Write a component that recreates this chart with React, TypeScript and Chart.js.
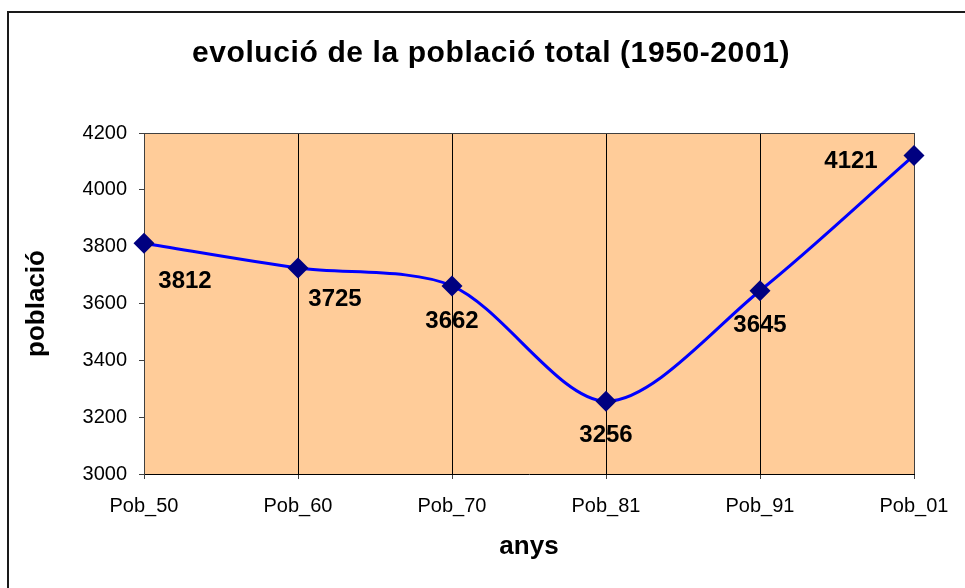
import React, { useEffect, useRef } from "react";
import { Chart, registerables } from "chart.js";

Chart.register(...registerables);

const categories = ["Pob_50", "Pob_60", "Pob_70", "Pob_81", "Pob_91", "Pob_01"];
const poblacio = [3812, 3725, 3662, 3256, 3645, 4121];
const yMin = 3000;
const yMax = 4200;
const yStep = 200;
const titleText = "evolució de la població total (1950-2001)";
const yTitle = "població";
const xTitle = "anys";

const FONT = "'Liberation Sans', Arial, Helvetica, sans-serif";

// label placement relative to each point (style, not data)
const labelOffsets: [number, number][] = [
  [41, 38],
  [37, 31],
  [0, 35],
  [0, 34],
  [0, 35],
  [-63, 6],
];

const decorPlugin = {
  id: "decor",
  beforeDraw(chart: any) {
    const { ctx, chartArea } = chart;
    ctx.save();
    ctx.fillStyle = "#FFFFFF";
    ctx.fillRect(0, 0, chart.width, chart.height);
    ctx.fillStyle = "#FFCC99";
    ctx.fillRect(chartArea.left, chartArea.top, chartArea.right - chartArea.left, chartArea.bottom - chartArea.top);
    // outer chart border (left & top visible)
    ctx.fillStyle = "#1a1a1a";
    ctx.fillRect(7, 11, 2, chart.height);
    ctx.fillRect(7, 11, chart.width, 2);
    ctx.restore();
  },
  beforeDatasetsDraw(chart: any) {
    const { ctx, chartArea } = chart;
    ctx.save();
    ctx.strokeStyle = "#404040";
    ctx.lineWidth = 1;
    ctx.beginPath();
    ctx.moveTo(chartArea.left, Math.round(chartArea.top) + 0.5);
    ctx.lineTo(chartArea.right, Math.round(chartArea.top) + 0.5);
    ctx.moveTo(Math.round(chartArea.right) + 0.5, chartArea.top);
    ctx.lineTo(Math.round(chartArea.right) + 0.5, chartArea.bottom);
    ctx.stroke();
    ctx.restore();
  },
  afterDatasetsDraw(chart: any) {
    const { ctx } = chart;
    const meta = chart.getDatasetMeta(0);
    ctx.save();
    ctx.font = `bold 24px ${FONT}`;
    ctx.fillStyle = "#000000";
    ctx.textAlign = "center";
    ctx.textBaseline = "middle";
    meta.data.forEach((pt: any, i: number) => {
      const [dx, dy] = labelOffsets[i] || [0, 30];
      ctx.fillText(String(poblacio[i]), pt.x + dx, pt.y + dy);
    });
    ctx.restore();
  },
  afterDraw(chart: any) {
    const { ctx } = chart;
    ctx.save();
    ctx.font = `bold 30px ${FONT}`;
    try {
      (ctx as any).letterSpacing = "0.6px";
    } catch (e) {}
    ctx.fillStyle = "#000000";
    ctx.textAlign = "center";
    ctx.textBaseline = "middle";
    ctx.fillText(titleText, 491, 54);
    ctx.restore();
  },
};

export default function App() {
  const canvasRef = useRef<HTMLCanvasElement | null>(null);

  useEffect(() => {
    if (!canvasRef.current) return;
    const chart = new Chart(canvasRef.current, {
      type: "line",
      data: {
        labels: categories,
        datasets: [
          {
            label: yTitle,
            data: poblacio,
            borderColor: "#0000FF",
            borderWidth: 3,
            tension: 0.3,
            pointStyle: "rectRot",
            pointRadius: 10.5,
            pointBackgroundColor: "#000080",
            pointBorderColor: "#000080",
            pointBorderWidth: 0,
            fill: false,
            clip: false,
          } as any,
        ],
      },
      options: {
        animation: false,
        responsive: true,
        maintainAspectRatio: false,
        layout: { padding: { left: 8, right: 51, top: 133, bottom: 26 } },
        plugins: {
          legend: { display: false },
          title: { display: false },
          tooltip: { enabled: false },
        },
        scales: {
          x: {
            offset: false,
            grid: {
              display: true,
              color: "#000000",
              lineWidth: 1,
              drawTicks: true,
              tickLength: 5,
              tickColor: "#404040",
            },
            border: { display: true, color: "#000000", width: 1 },
            ticks: {
              color: "#000000",
              font: { family: FONT, size: 20 },
              padding: 15,
              maxRotation: 0,
              autoSkip: false,
            },
            title: {
              display: true,
              text: xTitle,
              color: "#000000",
              font: { family: FONT, size: 26, weight: "bold" },
              padding: { top: 0, bottom: 0 },
            },
            afterFit(scale: any) {
              scale.height = 88;
            },
          } as any,
          y: {
            min: yMin,
            max: yMax,
            grid: {
              display: true,
              drawOnChartArea: false,
              drawTicks: true,
              tickLength: 5,
              tickColor: "#404040",
            },
            border: { display: true, color: "#404040", width: 1 },
            ticks: {
              stepSize: yStep,
              color: "#000000",
              font: { family: FONT, size: 20 },
              padding: 12,
              callback: (v: any) => String(v),
            },
            title: {
              display: true,
              text: yTitle,
              color: "#000000",
              font: { family: FONT, size: 26, weight: "bold" },
              padding: { top: 13, bottom: 0 },
            },
            afterFit(scale: any) {
              scale.width = 136;
            },
          } as any,
        },
      },
      plugins: [decorPlugin],
    });
    return () => chart.destroy();
  }, []);

  return (
    <div style={{ position: "fixed", left: 0, top: 0, width: 965, height: 588, background: "#fff" }}>
      <canvas ref={canvasRef} />
    </div>
  );
}
